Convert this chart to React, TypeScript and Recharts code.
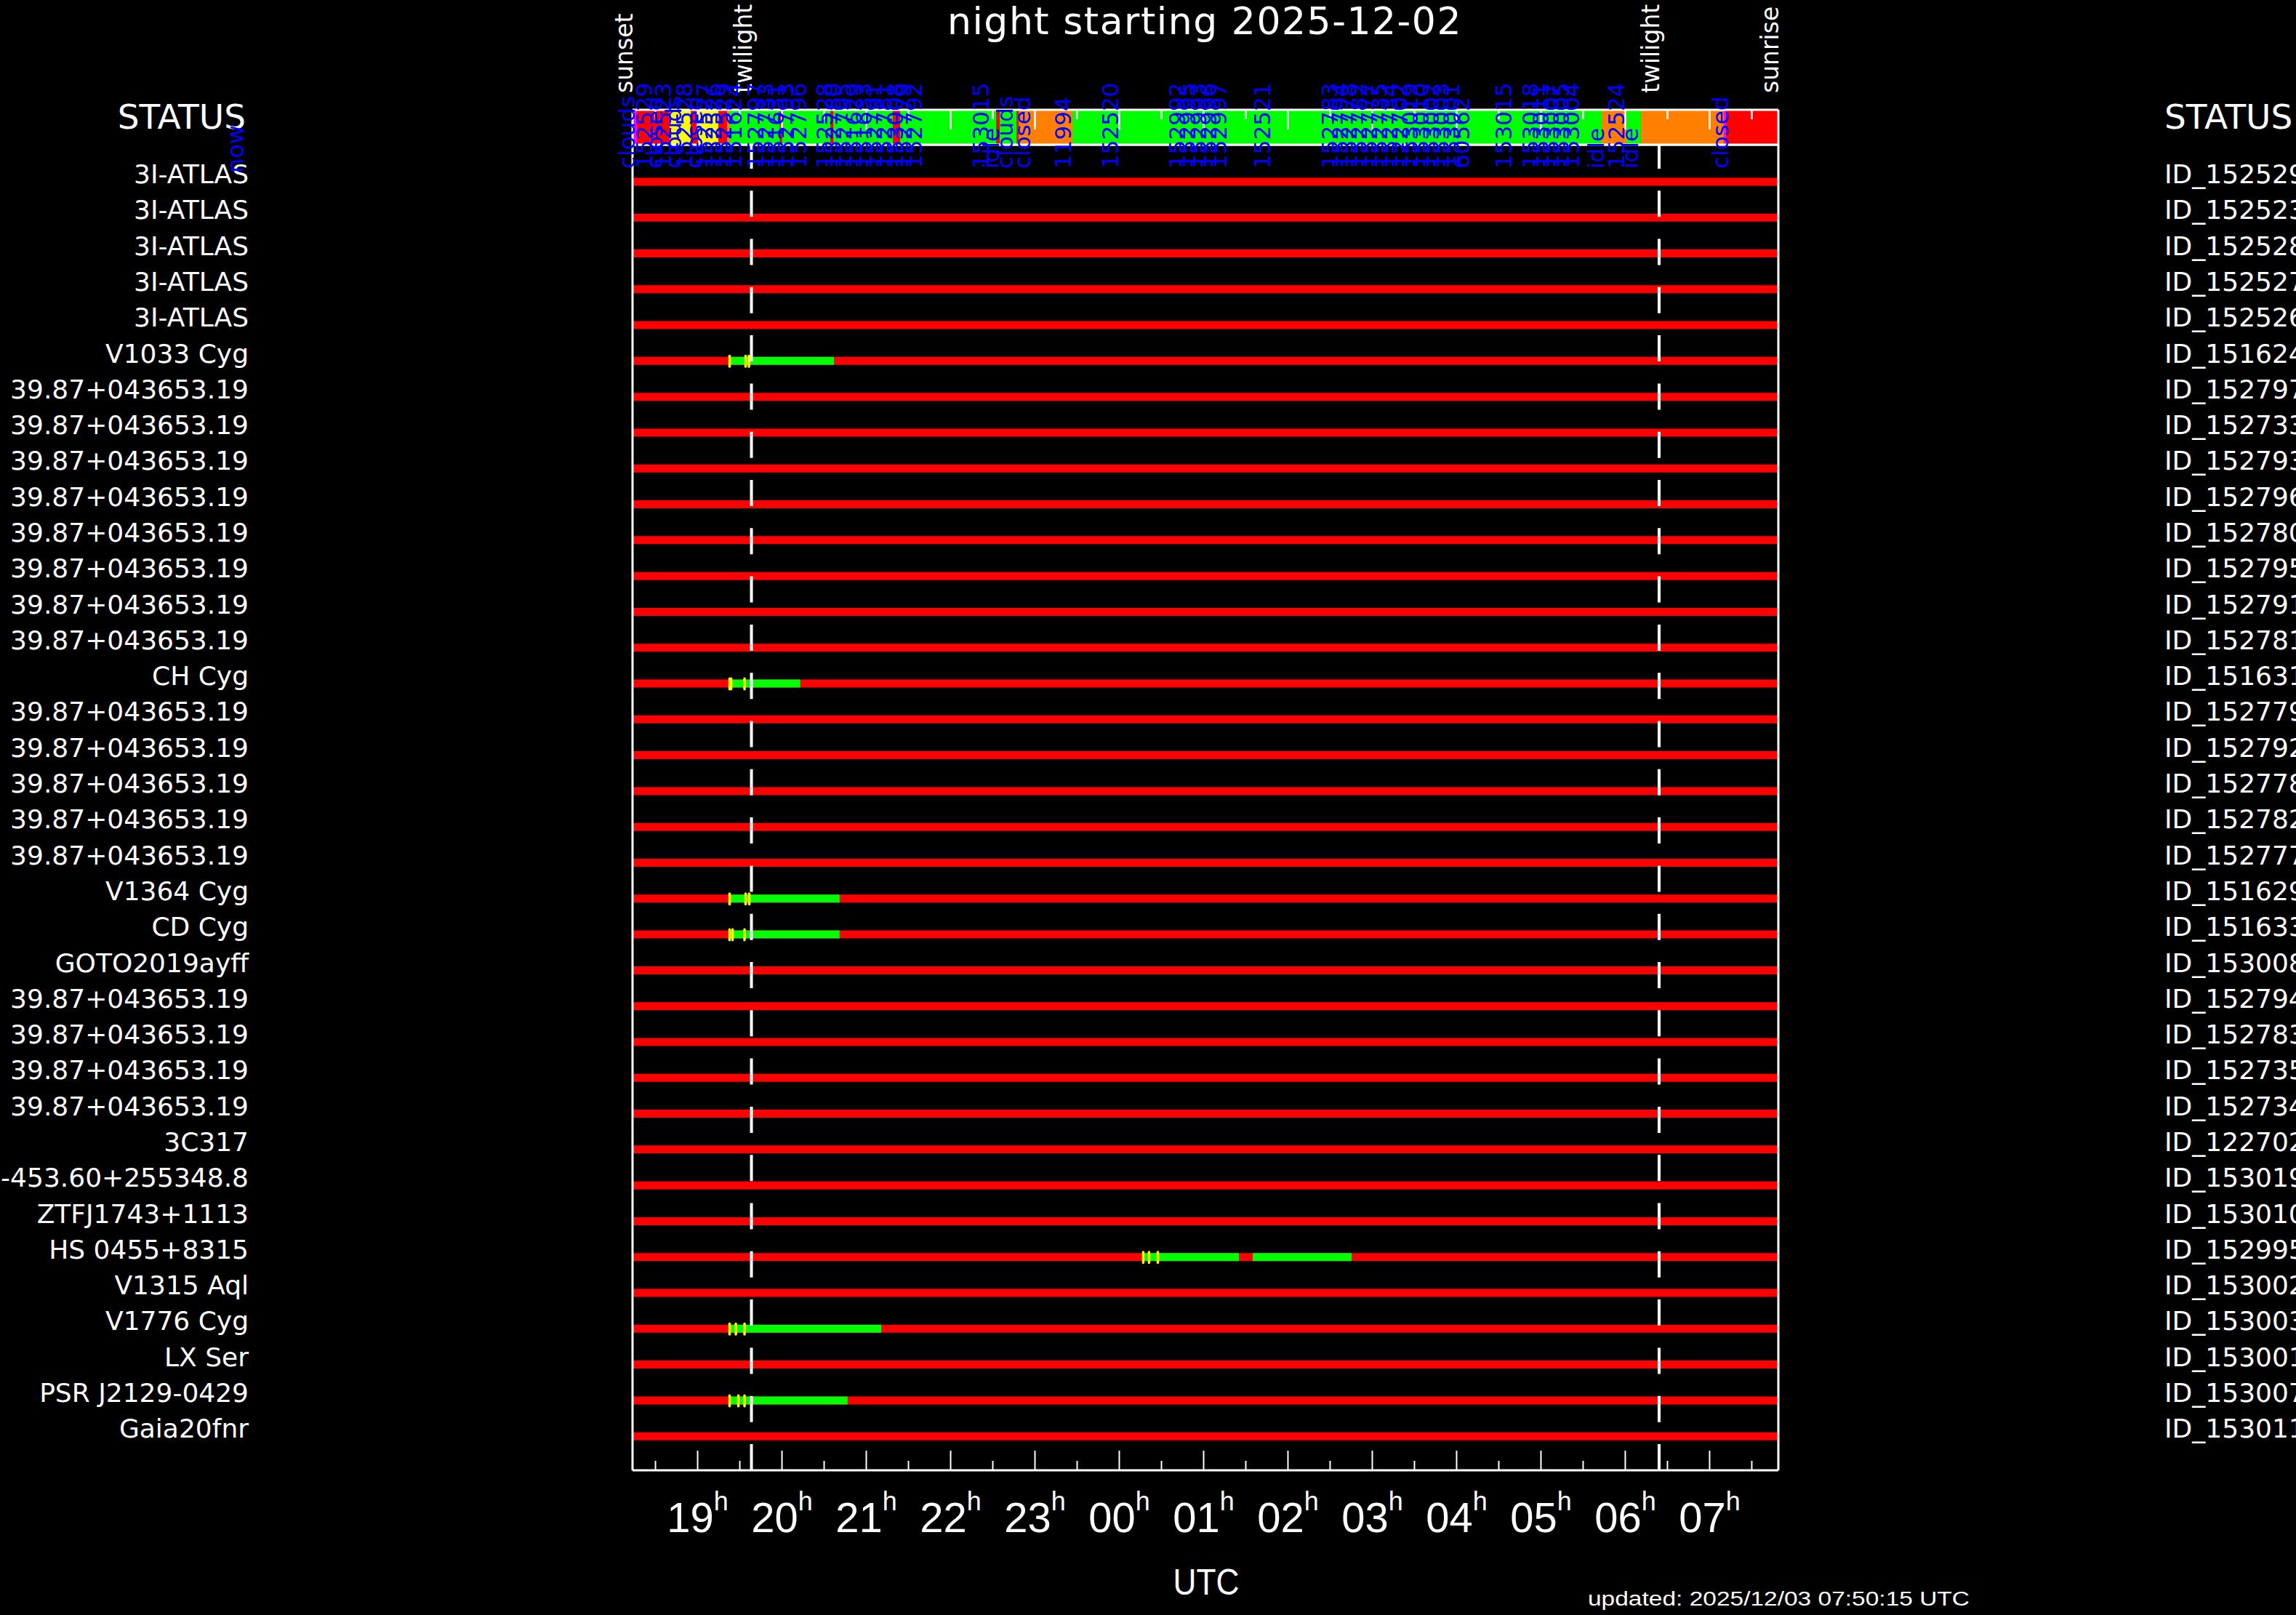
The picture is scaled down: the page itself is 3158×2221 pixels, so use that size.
import React from 'react';
import { ComposedChart, Bar, Area, XAxis, YAxis, ReferenceLine } from 'recharts';

const W = 3158;
const H = 2221;
const ROW_FONT = "'DejaVu Sans', 'Verdana', sans-serif";
const AXIS_FONT = "'Liberation Sans', Arial, sans-serif";

// ---- night events (decimal UTC hours, values > 24 are after midnight) ----
const eventTimes = [18.228, 19.638, 30.401, 31.815];
const eventLabels = ['sunset', 'twilight', 'twilight', 'sunrise'];
const twilightTimes = [19.638, 30.401];
const nightStart = 18.228;
const nightEnd = 31.815;

// ---- time axis ticks ----
const tickTimes = [18.5, 19, 19.5, 20, 20.5, 21, 21.5, 22, 22.5, 23, 23.5, 24, 24.5, 25, 25.5, 26, 26.5, 27, 27.5, 28, 28.5, 29, 29.5, 30, 30.5, 31, 31.5];
const hourLabels = ['19', '20', '21', '22', '23', '00', '01', '02', '03', '04', '05', '06', '07'];

// ---- targets (rows) ----
const targets = [
  '3I-ATLAS', '3I-ATLAS', '3I-ATLAS', '3I-ATLAS', '3I-ATLAS', 'V1033 Cyg',
  '39.87+043653.19', '39.87+043653.19', '39.87+043653.19', '39.87+043653.19',
  '39.87+043653.19', '39.87+043653.19', '39.87+043653.19', '39.87+043653.19',
  'CH Cyg',
  '39.87+043653.19', '39.87+043653.19', '39.87+043653.19', '39.87+043653.19', '39.87+043653.19',
  'V1364 Cyg', 'CD Cyg', 'GOTO2019ayff',
  '39.87+043653.19', '39.87+043653.19', '39.87+043653.19', '39.87+043653.19',
  '3C317', '-453.60+255348.8', 'ZTFJ1743+1113', 'HS 0455+8315', 'V1315 Aql',
  'V1776 Cyg', 'LX Ser', 'PSR J2129-0429', 'Gaia20fnr',
];
const obsIds = [
  'ID_152529', 'ID_152523', 'ID_152528', 'ID_152527', 'ID_152526', 'ID_151624',
  'ID_152797', 'ID_152733', 'ID_152793', 'ID_152796', 'ID_152780', 'ID_152795',
  'ID_152791', 'ID_152781', 'ID_151631', 'ID_152779', 'ID_152792', 'ID_152778',
  'ID_152782', 'ID_152777', 'ID_151629', 'ID_151633', 'ID_153008', 'ID_152794',
  'ID_152783', 'ID_152735', 'ID_152734', 'ID_122702', 'ID_153019', 'ID_153010',
  'ID_152995', 'ID_153002', 'ID_153003', 'ID_153001', 'ID_153007', 'ID_153011',
];

// ---- observed rows: good (green) windows and start marks (yellow) ----
const activeRows = [5, 14, 20, 21, 30, 32, 34];
const goodStart = [19.375, 19.366, 19.375, 19.375, 24.28, 19.375, 19.375];
const goodEnd = [20.616, 20.217, 20.683, 20.683, 25.418, 21.177, 20.778];
const good2Start = [null, null, null, null, 25.582, null, null];
const good2End = [null, null, null, null, 26.754, null, null];
const startMarks = [
  [19.379, 19.569, 19.608],
  [19.379, 19.397, 19.556],
  [19.379, 19.569, 19.612],
  [19.379, 19.414, 19.556],
  [24.284, 24.353, 24.457],
  [19.379, 19.453, 19.556],
  [19.379, 19.483, 19.556],
];

// ---- telescope status strip ----
const statusTimes = [18.228, 18.28, 18.668, 18.918, 19.004, 19.246, 19.349, 19.375, 19.976, 19.998, 20.573, 20.608, 21.315, 21.401, 22.544, 22.579, 22.786, 22.806, 23.444, 29.72, 30.013, 30.185, 31.168, 31.198, 31.815];
const statusColors = ['#ff00ff', '#ff0000', '#ffff00', '#ff0000', '#ffff00', '#ff0000', '#ff8000', '#00ff00', '#ff0000', '#00ff00', '#ff0000', '#00ff00', '#ff0000', '#00ff00', '#ff0000', '#00ff00', '#ff0000', '#ff8000', '#00ff00', '#ff8000', '#00ff00', '#ff8000', '#ff00ff', '#ff0000', '#ff0000'];
const statusPalette = ['#00ff00', '#ff0000', '#ffff00', '#ff8000', '#ff00ff'];

const logTimes = [18.254, 18.463, 18.583, 18.688, 18.809, 18.931, 19.053, 19.174, 19.278, 19.4, 19.521, 19.782, 19.903, 20.025, 20.146, 20.285, 20.598, 20.702, 20.824, 20.945, 21.067, 21.188, 21.31, 21.431, 21.535, 21.656, 22.456, 22.577, 22.733, 22.942, 23.428, 23.983, 24.783, 24.904, 25.026, 25.147, 25.269, 25.79, 26.589, 26.71, 26.814, 26.936, 27.057, 27.179, 27.3, 27.422, 27.543, 27.665, 27.786, 27.908, 28.029, 28.151, 28.654, 28.966, 29.088, 29.209, 29.331, 29.452, 29.748, 29.991, 30.147, 31.224];
const logTexts = ['clouds', '152529', 'closed', '152523', 'clouds', '152528', 'closed', '152527', '152526', '152529', '151624', '152797', '152733', '151631', '152793', '152796', '152528', '152780', '152795', '151629', '151633', '152791', '152781', '153008', '152779', '152792', '153015', 'idle', 'clouds', 'closed', '11994', '152520', '152992', '152995', '152993', '152996', '152997', '152521', '152783', '152794', '152778', '152782', '152777', '152735', '152734', '122702', '153019', '153010', '153002', '153003', '153001', '60562', '153015', '153018', '153011', '153007', '153005', '153004', 'idle', '152524', 'idle', 'closed'];

const rows = obsIds.map((id, i) => {
  const k = activeRows.indexOf(i);
  return {
    obsId: id,
    window: [nightStart, nightEnd],
    good: k >= 0 ? [goodStart[k], goodEnd[k]] : null,
    good2: k >= 0 && good2Start[k] != null ? [good2Start[k], good2End[k]] : null,
    marks: k >= 0 ? startMarks[k] : [],
  };
});
const statusData = statusTimes.map((t, i) => ({ t, c: statusColors[i] }));

const MARK_HALF = 0.015;
const markKey = (j: number) => (d: any) =>
  d.marks[j] != null ? [d.marks[j] - MARK_HALF, d.marks[j] + MARK_HALF] : null;

const frameLine = { stroke: '#ffffff', strokeWidth: 3 };
const rowPadding = { top: 26.4, bottom: 22 };

const LeftTick = (props: any) => {
  const { x, y, payload } = props;
  const i = obsIds.indexOf(payload.value);
  return (
    <text x={x} y={y + 2} textAnchor="end" fill="#ffffff" fontFamily={ROW_FONT} fontSize={36}>
      {targets[i]}
    </text>
  );
};
const RightTick = (props: any) => {
  const { x, y, payload } = props;
  return (
    <text x={x} y={y + 2} textAnchor="start" fill="#ffffff" fontFamily={ROW_FONT} fontSize={36}>
      {payload.value}
    </text>
  );
};
const BottomTick = (props: any) => {
  const { x, y, payload } = props;
  const v = payload.value;
  const isHour = Number.isInteger(v);
  return (
    <g>
      <line x1={x} x2={x} y1={y} y2={y - (isHour ? 27 : 13)} stroke="#ffffff" strokeWidth={2} />
      {isHour && (
        <text x={x} y={y + 85} textAnchor="middle" fill="#ffffff" fontFamily={AXIS_FONT} fontSize={58}>
          {hourLabels[v - 19]}
          <tspan fontSize={36} dy={-30}>h</tspan>
        </text>
      )}
    </g>
  );
};
const EventTick = (props: any) => {
  const { x, y, payload } = props;
  const i = eventTimes.indexOf(payload.value);
  return (
    <text transform={`translate(${x},${y - 71}) rotate(-90)`} fill="#ffffff" fontFamily={ROW_FONT} fontSize={33}>
      {eventLabels[i]}
    </text>
  );
};
const StatusTick = (props: any) => {
  const { x, y, payload } = props;
  const isHour = Number.isInteger(payload.value);
  return <line x1={x} x2={x} y1={y} y2={y + (isHour ? 27 : 13)} stroke="#ffffff" strokeWidth={2.5} />;
};
const LogTick = (props: any) => {
  const { x, y, payload } = props;
  const i = logTimes.indexOf(payload.value);
  return (
    <text transform={`translate(${x},${y + 33}) rotate(-90)`} fill="#0000ff" fontFamily={ROW_FONT} fontSize={31}>
      {logTexts[i]}
    </text>
  );
};

export default function App() {
  const hidden = ['g2', 'm0', 'm1', 'm2'];
  return (
    <div style={{ position: 'absolute', left: 0, top: 0, width: W, height: H, background: '#000000', overflow: 'hidden' }}>
      <div style={{ position: 'absolute', left: 0, top: 0 }}>
        <ComposedChart width={W} height={H} data={rows} layout="vertical" margin={{ top: 198, bottom: 198, left: 342, right: 181 }}>
          <YAxis yAxisId="left" type="category" dataKey="obsId" width={528} tickSize={0} tickMargin={528} tickLine={false} interval={0} tick={<LeftTick />} axisLine={frameLine} padding={rowPadding} />
          <YAxis yAxisId="right" orientation="right" type="category" dataKey="obsId" width={531} tickSize={0} tickMargin={531} tickLine={false} interval={0} tick={<RightTick />} axisLine={frameLine} padding={rowPadding} />
          {hidden.map((id) => (
            <YAxis key={id} yAxisId={id} hide width={0} orientation="right" type="category" dataKey="obsId" padding={rowPadding} />
          ))}
          <Bar xAxisId="x" yAxisId="left" dataKey="window" fill="#ff0000" barSize={11} isAnimationActive={false} />
          <Bar xAxisId="x" yAxisId="right" dataKey="good" fill="#00ff00" barSize={11} isAnimationActive={false} />
          <Bar xAxisId="x" yAxisId="g2" dataKey="good2" fill="#00ff00" barSize={11} isAnimationActive={false} />
          {[0, 1, 2].map((j) => (
            <Bar key={j} xAxisId="x" yAxisId={`m${j}`} dataKey={markKey(j)} fill="#ffff00" barSize={18} radius={2} isAnimationActive={false} />
          ))}
          {twilightTimes.map((t) => (
            <ReferenceLine key={t} xAxisId="x" yAxisId="right" x={t} stroke="#ffffff" strokeWidth={4} strokeDasharray="36 30.3" />
          ))}
          <XAxis xAxisId="x" type="number" orientation="bottom" domain={[nightStart, nightEnd]} allowDataOverflow ticks={tickTimes} interval={0} height={1} tickSize={0} tickMargin={0} tickLine={false} tick={<BottomTick />} axisLine={frameLine} />
          <XAxis xAxisId="top" type="number" orientation="top" domain={[nightStart, nightEnd]} allowDataOverflow ticks={eventTimes} interval={0} height={1} tickSize={0} tickMargin={0} tickLine={false} tick={<EventTick />} axisLine={frameLine} />
        </ComposedChart>
      </div>
      <div style={{ position: 'absolute', left: 0, top: 0 }}>
        <ComposedChart width={W} height={260} data={statusData} margin={{ top: 151, bottom: 60, left: 869, right: 711 }}>
          {statusPalette.map((col) => (
            <Area key={col} xAxisId="sx" yAxisId="sy" type="stepAfter" dataKey={(d: any) => (d.c === col ? 1 : 0)} stroke="none" fill={col} fillOpacity={1} dot={false} activeDot={false} isAnimationActive={false} />
          ))}
          <YAxis yAxisId="sy" type="number" domain={[0, 1]} allowDataOverflow width={1} tick={false} tickLine={false} axisLine={frameLine} />
          <YAxis yAxisId="sr" orientation="right" type="number" domain={[0, 1]} allowDataOverflow width={1} tick={false} tickLine={false} axisLine={frameLine} />
          <XAxis xAxisId="sx" dataKey="t" type="number" orientation="top" mirror domain={[nightStart, nightEnd]} allowDataOverflow ticks={tickTimes} interval={0} height={1} tickSize={0} tickMargin={0} tickLine={false} tick={<StatusTick />} axisLine={frameLine} />
          <XAxis xAxisId="sb" dataKey="t" type="number" orientation="bottom" domain={[nightStart, nightEnd]} allowDataOverflow ticks={logTimes} interval={0} height={1} tickSize={0} tickMargin={0} tickLine={false} tick={<LogTick />} axisLine={frameLine} />
        </ComposedChart>
      </div>
      <svg width={W} height={H} style={{ position: 'absolute', left: 0, top: 0, pointerEvents: 'none' }}>
        <text x={1657} y={47} textAnchor="middle" fill="#ffffff" fontFamily={ROW_FONT} fontSize={52} letterSpacing={1.5}>night starting 2025-12-02</text>
        <text x={338} y={177} textAnchor="end" fill="#ffffff" fontFamily={ROW_FONT} fontSize={47}>STATUS</text>
        <text x={2977} y={177} textAnchor="start" fill="#ffffff" fontFamily={ROW_FONT} fontSize={47}>STATUS</text>
        <text transform="translate(335,238) rotate(-90)" fill="#0000ff" fontFamily={ROW_FONT} fontSize={32}>now</text>
        <text x={1659} y={2193} textAnchor="middle" fill="#ffffff" fontFamily={AXIS_FONT} fontSize={50} textLength={91} lengthAdjust="spacingAndGlyphs">UTC</text>
        <text x={2184} y={2208} fill="#ffffff" fontFamily={AXIS_FONT} fontSize={27} textLength={525} lengthAdjust="spacingAndGlyphs">updated: 2025/12/03 07:50:15 UTC</text>
      </svg>
    </div>
  );
}
